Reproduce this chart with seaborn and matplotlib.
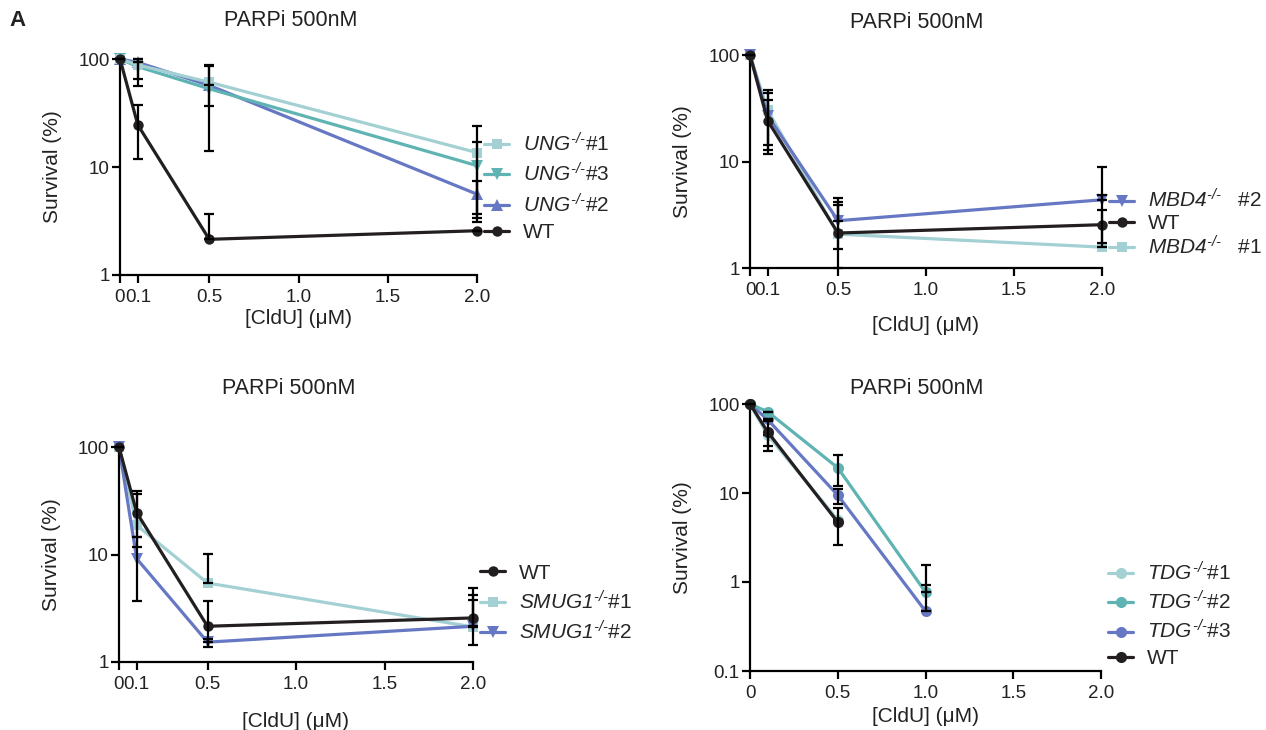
import numpy as np
import pandas as pd
import matplotlib
matplotlib.use("Agg")
import matplotlib.pyplot as plt
from matplotlib.ticker import NullLocator
import seaborn as sns

# ---------------- data ----------------
cldu = [0, 0.1, 0.5, 2.0]
cldu_tdg = [0, 0.1, 0.5, 1.0]

# Panel 1: UNG
ung_wt = [100, 24.5, 2.14, 2.57]
ung_wt_lo = [100, 11.8, 2.14, 2.57]
ung_wt_hi = [100, 37.5, 3.65, 2.57]
ung1 = [100, 88, 61, 13.6]
ung1_lo = [100, 65, 36.7, 3.1]
ung1_hi = [100, 100, 86, 24]
ung3 = [100, 85, 53, 10.3]
ung3_lo = [100, 56, 14.2, 3.35]
ung3_hi = [100, 100, 88, 17.2]
ung2 = [100, 93, 57, 5.6]
ung2_lo = [100, 93, 57, 3.7]
ung2_hi = [100, 93, 57, 7.4]

# Panel 2: MBD4
mbd_wt = [100, 24.2, 2.13, 2.55]
mbd_wt_lo = [100, 11.8, 1.5, 1.7]
mbd_wt_hi = [100, 38, 3.9, 4.87]
mbd2 = [100, 27, 2.78, 4.37]
mbd2_lo = [100, 12.9, 2.78, 4.37]
mbd2_hi = [100, 44, 4.53, 8.8]
mbd1 = [100, 30.5, 2.08, 1.57]
mbd1_lo = [100, 14.3, 1.0, 1.57]
mbd1_hi = [100, 47, 4.2, 3.47]

# Panel 3: SMUG1
smug_wt = [100, 24.5, 2.15, 2.57]
smug_wt_lo = [100, 11.7, 1.38, 1.43]
smug_wt_hi = [100, 38.7, 3.67, 4.9]
smug1 = [100, 18.7, 5.43, 2.12]
smug1_lo = [100, 14.5, 5.43, 2.12]
smug1_hi = [100, 36.7, 10.2, 4.17]
smug2 = [100, 9.15, 1.53, 2.15]
smug2_lo = [100, 3.67, 1.53, 2.15]
smug2_hi = [100, 14.5, 1.65, 3.75]

# Panel 4: TDG
tdg_wt = [100, 48.8, 4.7, np.nan]
tdg_wt_lo = [100, 29.6, 2.59, np.nan]
tdg_wt_hi = [100, 64, 6.8, np.nan]
tdg1 = [100, 45, 5.0, np.nan]
tdg1_lo = [100, 33.7, 5.0, np.nan]
tdg1_hi = [100, 45, 5.0, np.nan]
tdg2 = [100, 82, 19.2, 0.77]
tdg2_lo = [100, 82, 11.9, 0.77]
tdg2_hi = [100, 82, 26.4, 1.54]
tdg3 = [100, 67, 9.45, 0.47]
tdg3_lo = [100, 67, 7.55, 0.47]
tdg3_hi = [100, 67, 11.1, 0.93]

xticks_a = [0, 0.1, 0.5, 1.0, 1.5, 2.0]
xlabels_a = ["0", "0.1", "0.5", "1.0", "1.5", "2.0"]
xticks_b = [0, 0.5, 1.0, 1.5, 2.0]
xlabels_b = ["0", "0.5", "1.0", "1.5", "2.0"]
yticks_a = [1, 10, 100]
ylabels_a = ["1", "10", "100"]
yticks_b = [0.1, 1, 10, 100]
ylabels_b = ["0.1", "1", "10", "100"]

title_txt = "PARPi 500nM"
xlab = "[CldU] (\u03bcM)"
ylab = "Survival (%)"

# ---------------- style ----------------
sns.set_theme(style="ticks")
plt.rcParams["font.family"] = ["Liberation Sans", "DejaVu Sans"]
plt.rcParams["mathtext.fontset"] = "custom"
plt.rcParams["mathtext.it"] = "Liberation Sans:italic"
plt.rcParams["mathtext.rm"] = "Liberation Sans:italic"
plt.rcParams["mathtext.sf"] = "Liberation Sans:italic"

LIGHT = "#A3D0D3"
TEAL = "#5FB3B3"
BLUE = "#6678C4"
BLACK = "#231F20"

LW = 2.3
FS_TICK = 13.5
FS_LAB = 15
FS_TITLE = 15.5
FS_LEG = 15

fig = plt.figure(figsize=(12.66, 7.30), dpi=100)
W, H = 1266, 730

def axes_px(l, r, t, b):
    return fig.add_axes([l / W, 1 - b / H, (r - l) / W, (b - t) / H])

ax1 = axes_px(120, 477, 59, 275)
ax2 = axes_px(750, 1102, 55, 268)
ax3 = axes_px(119, 473, 447, 662)
ax4 = axes_px(750, 1101, 404, 671)


def series(ax, x, y, lo, hi, color, marker, ms, label, z):
    y = np.asarray(y, float)
    lo = np.asarray(lo, float)
    hi = np.asarray(hi, float)
    df = pd.DataFrame({"x": x, "y": y}).dropna()
    sns.lineplot(data=df, x="x", y="y", ax=ax, color=color, marker=marker,
                 markersize=ms, markeredgewidth=0, linewidth=LW, label=label,
                 zorder=z, clip_on=False)
    mask = ~np.isnan(y)
    xe = np.asarray(x, float)[mask]
    ax.errorbar(xe, y[mask], yerr=[y[mask] - lo[mask], hi[mask] - y[mask]],
                fmt="none", ecolor="black", elinewidth=1.6, capsize=3.8,
                capthick=1.6, zorder=z + 0.5, clip_on=False)


def style_axes(ax, ylim, yt, yl, xt, xl, xlabpad, ylabpad):
    ax.set_yscale("log")
    ax.set_xlim(0, 2.0)
    ax.set_ylim(*ylim)
    ax.set_yticks(yt, labels=yl)
    ax.set_xticks(xt, labels=xl)
    ax.yaxis.set_minor_locator(NullLocator())
    ax.xaxis.set_minor_locator(NullLocator())
    for s in ["top", "right"]:
        ax.spines[s].set_visible(False)
    for s in ["left", "bottom"]:
        ax.spines[s].set_linewidth(1.6)
        ax.spines[s].set_color("black")
    ax.tick_params(axis="both", length=6, width=1.6, color="black",
                   labelsize=FS_TICK, labelcolor="#222222")
    ax.tick_params(axis="y", pad=1.5)
    ax.tick_params(axis="x", pad=4)
    ax.set_xlabel(xlab, fontsize=FS_LAB, labelpad=xlabpad, color="#222222")
    ax.set_ylabel(ylab, fontsize=FS_LAB, labelpad=ylabpad, color="#222222")
    ax.set_facecolor("none")


def legend(ax, order, ycenter, spacing):
    handles, labels = ax.get_legend_handles_labels()
    d = dict(zip(labels, handles))
    ax.legend([d[k] for k in order], order, loc="center left",
              bbox_to_anchor=(1.0 + 7 / (ax.bbox.width), ycenter),
              frameon=False, fontsize=FS_LEG, handlelength=1.2,
              handletextpad=0.65, labelspacing=spacing, borderpad=0,
              borderaxespad=0)


SUP = r"^{\text{-/-}}"

# Panel 1
l_u1 = r"$\mathit{UNG}" + SUP + r"$#1"
l_u3 = r"$\mathit{UNG}" + SUP + r"$#3"
l_u2 = r"$\mathit{UNG}" + SUP + r"$#2"
series(ax1, cldu, ung2, ung2_lo, ung2_hi, BLUE, "^", 8.5, l_u2, 2)
series(ax1, cldu, ung3, ung3_lo, ung3_hi, TEAL, "v", 8.5, l_u3, 2.1)
series(ax1, cldu, ung1, ung1_lo, ung1_hi, LIGHT, "s", 7.5, l_u1, 2.2)
series(ax1, cldu, ung_wt, ung_wt_lo, ung_wt_hi, BLACK, "o", 7.5, "WT", 4)
style_axes(ax1, (1, 100), yticks_a, ylabels_a, xticks_a, xlabels_a, 2, 12)
legend(ax1, [l_u1, l_u3, l_u2, "WT"], 0.407, 0.35)

# Panel 2
l_m2 = r"$\mathit{MBD4}" + SUP + r"$   #2"
l_m1 = r"$\mathit{MBD4}" + SUP + r"$   #1"
series(ax2, cldu, mbd1, mbd1_lo, mbd1_hi, LIGHT, "s", 7.5, l_m1, 2)
series(ax2, cldu, mbd2, mbd2_lo, mbd2_hi, BLUE, "v", 8.5, l_m2, 2.1)
series(ax2, cldu, mbd_wt, mbd_wt_lo, mbd_wt_hi, BLACK, "o", 7.5, "WT", 4)
style_axes(ax2, (1, 100), yticks_a, ylabels_a, xticks_a, xlabels_a, 12, 12)
legend(ax2, [l_m2, "WT", l_m1], 0.209, 0.1)

# Panel 3
l_s1 = r"$\mathit{SMUG1}" + SUP + r"$#1"
l_s2 = r"$\mathit{SMUG1}" + SUP + r"$#2"
series(ax3, cldu, smug1, smug1_lo, smug1_hi, LIGHT, "s", 7.5, l_s1, 2)
series(ax3, cldu, smug2, smug2_lo, smug2_hi, BLUE, "v", 8.5, l_s2, 2.1)
series(ax3, cldu, smug_wt, smug_wt_lo, smug_wt_hi, BLACK, "o", 7.5, "WT", 4)
style_axes(ax3, (1, 100), yticks_a, ylabels_a, xticks_a, xlabels_a, 14, 12)
legend(ax3, ["WT", l_s1, l_s2], 0.272, 0.35)

# Panel 4
l_t1 = r"$\mathit{TDG}" + SUP + r"$#1"
l_t2 = r"$\mathit{TDG}" + SUP + r"$#2"
l_t3 = r"$\mathit{TDG}" + SUP + r"$#3"
series(ax4, cldu_tdg, tdg1, tdg1_lo, tdg1_hi, LIGHT, "o", 8, l_t1, 2)
series(ax4, cldu_tdg, tdg3, tdg3_lo, tdg3_hi, BLUE, "o", 8, l_t3, 2.1)
series(ax4, cldu_tdg, tdg2, tdg2_lo, tdg2_hi, TEAL, "o", 8, l_t2, 2.2)
series(ax4, cldu_tdg, tdg_wt, tdg_wt_lo, tdg_wt_hi, BLACK, "o", 8, "WT", 4)
style_axes(ax4, (0.1, 100), yticks_b, ylabels_b, xticks_b, xlabels_b, 4, 12)
legend(ax4, [l_t1, l_t2, l_t3, "WT"], 0.2116, 0.3)

# Titles and panel letter
for (px, py) in [(291, 20), (917, 22), (289, 388), (917, 388)]:
    fig.text(px / W, 1 - py / H, title_txt, ha="center", va="center",
             fontsize=FS_TITLE, color="#222222")
fig.text(18 / W, 1 - 20 / H, "A", ha="center", va="center",
         fontsize=16, fontweight="bold", color="#222222")

fig.savefig("out.png", dpi=100, facecolor="white")
